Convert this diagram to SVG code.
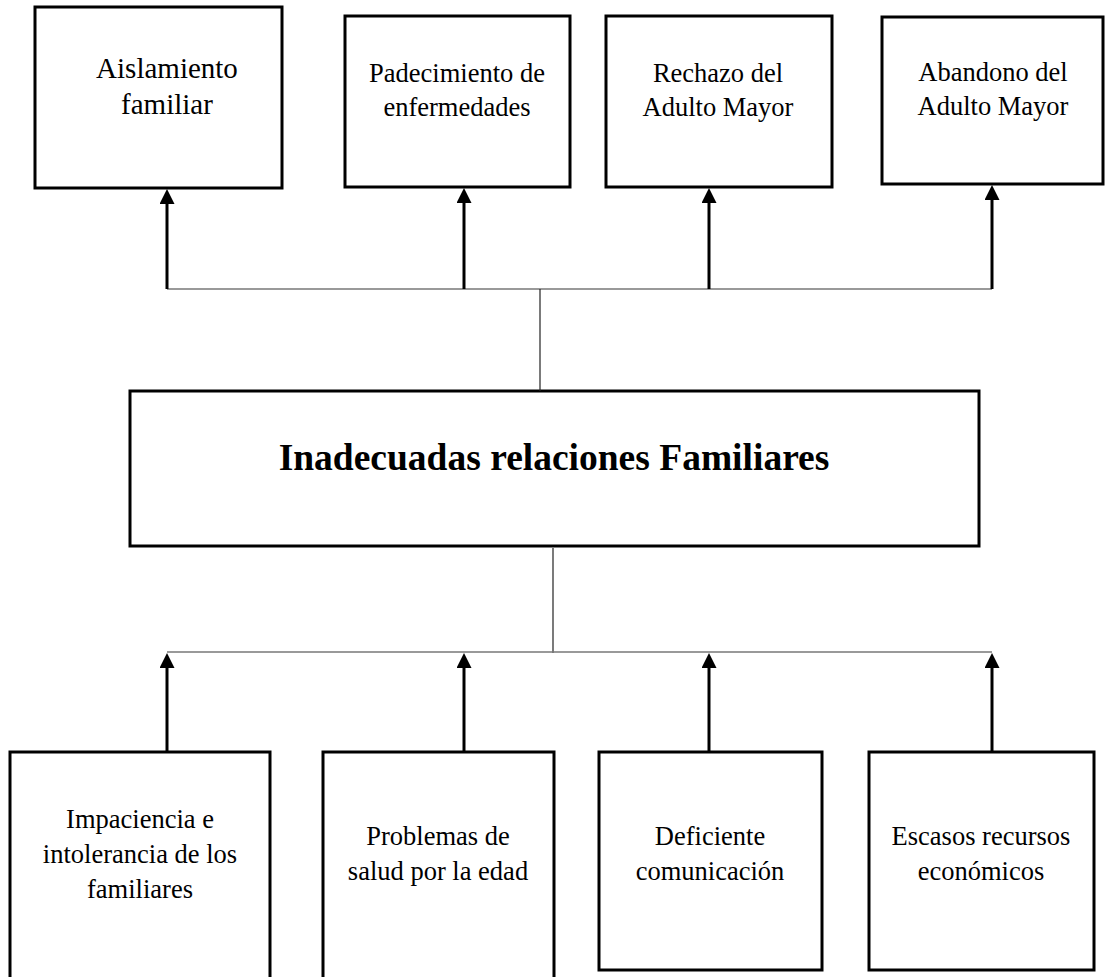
<svg xmlns="http://www.w3.org/2000/svg" width="1106" height="977" viewBox="0 0 1106 977">
<style>
.box{fill:#fff;stroke:#000;stroke-width:3}
.t{font-family:"Liberation Serif","Times New Roman",serif;font-size:26.5px;fill:#000;text-anchor:middle}
.tb{font-family:"Liberation Serif","Times New Roman",serif;font-size:37.5px;font-weight:bold;fill:#000;text-anchor:middle}
.arr{stroke:#000;stroke-width:3;fill:none;marker-end:url(#ah)}
.bus{stroke:#777;stroke-width:1.6;fill:none}
.thin{stroke:#222;stroke-width:1.2;fill:none}
</style>
<defs>
<marker id="ah" markerUnits="userSpaceOnUse" markerWidth="16" markerHeight="16" viewBox="0 0 16 16" refX="1" refY="7.5" orient="auto">
<path d="M0,0 L15,7.5 L0,15 z" fill="#000"/>
</marker>
</defs>
<g id="n-aislamiento">
<rect class="box" x="35" y="7" width="247" height="181"/>
<text class="t" style="font-size:29px" x="167" y="78">Aislamiento</text>
<text class="t" style="font-size:29px" x="167" y="114">familiar</text>
</g>
<g id="n-padecimiento">
<rect class="box" x="345" y="16" width="225" height="171"/>
<text class="t" x="457" y="82">Padecimiento de</text>
<text class="t" x="457" y="116">enfermedades</text>
</g>
<g id="n-rechazo">
<rect class="box" x="606" y="16" width="226" height="171"/>
<text class="t" x="718" y="82">Rechazo del</text>
<text class="t" x="718" y="116">Adulto Mayor</text>
</g>
<g id="n-abandono">
<rect class="box" x="882" y="17" width="221" height="167"/>
<text class="t" x="993" y="81">Abandono del</text>
<text class="t" x="993" y="115">Adulto Mayor</text>
</g>
<g id="n-central">
<rect class="box" x="130" y="391" width="849" height="155"/>
<text class="tb" x="554" y="470">Inadecuadas relaciones Familiares</text>
</g>
<g id="n-impaciencia">
<path class="box" d="M10,980 V752 H270 V980"/>
<text class="t" x="140" y="828">Impaciencia e</text>
<text class="t" x="140" y="863">intolerancia de los</text>
<text class="t" x="140" y="898">familiares</text>
</g>
<g id="n-problemas">
<path class="box" d="M323,980 V752 H554 V980"/>
<text class="t" x="438" y="845">Problemas de</text>
<text class="t" x="438" y="880">salud por la edad</text>
</g>
<g id="n-deficiente">
<rect class="box" x="599" y="752" width="223" height="218"/>
<text class="t" x="710" y="845">Deficiente</text>
<text class="t" x="710" y="880">comunicación</text>
</g>
<g id="n-escasos">
<rect class="box" x="869" y="752" width="225" height="218"/>
<text class="t" x="981" y="845">Escasos recursos</text>
<text class="t" x="981" y="880">económicos</text>
</g>
<g id="connectors">
<path class="bus" d="M167,289 H992"/>
<path class="thin" d="M540,289 V391"/>
<path class="arr" d="M167,289 V203"/>
<path class="arr" d="M464,289 V202"/>
<path class="arr" d="M709,289 V202"/>
<path class="arr" d="M992,289 V199"/>
<path class="thin" d="M553,548 V653"/>
<path class="bus" d="M167,652 H992"/>
<path class="arr" d="M167,752 V667"/>
<path class="arr" d="M464,752 V667"/>
<path class="arr" d="M709,752 V667"/>
<path class="arr" d="M992,752 V667"/>
</g>
</svg>
